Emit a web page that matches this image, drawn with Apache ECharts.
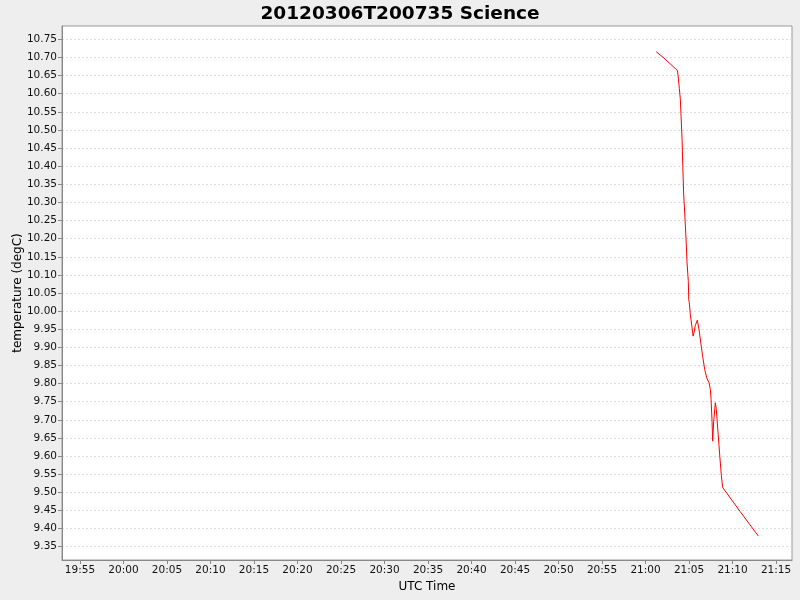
<!DOCTYPE html>
<html>
<head>
<meta charset="utf-8">
<script src="https://cdn.jsdelivr.net/npm/echarts@6/dist/echarts.min.js"></script>
<style>
  html, body { margin: 0; padding: 0; background: #eeeeee; }
  #chart { width: 800px; height: 600px; }
</style>
</head>
<body>
<div id="chart"></div>
<script>
const times = [
    "2012-03-06 21:01:14", "2012-03-06 21:02:14", "2012-03-06 21:03:40", "2012-03-06 21:03:44",
    "2012-03-06 21:03:53", "2012-03-06 21:04:00", "2012-03-06 21:04:05", "2012-03-06 21:04:12",
    "2012-03-06 21:04:17", "2012-03-06 21:04:23", "2012-03-06 21:04:32", "2012-03-06 21:04:40",
    "2012-03-06 21:04:46", "2012-03-06 21:04:55", "2012-03-06 21:04:58", "2012-03-06 21:05:02",
    "2012-03-06 21:05:09", "2012-03-06 21:05:21", "2012-03-06 21:05:28", "2012-03-06 21:05:34",
    "2012-03-06 21:05:43", "2012-03-06 21:05:57", "2012-03-06 21:06:09", "2012-03-06 21:06:21",
    "2012-03-06 21:06:34", "2012-03-06 21:06:48", "2012-03-06 21:07:02", "2012-03-06 21:07:18",
    "2012-03-06 21:07:27", "2012-03-06 21:07:32", "2012-03-06 21:07:39", "2012-03-06 21:07:43",
    "2012-03-06 21:07:50", "2012-03-06 21:08:01", "2012-03-06 21:08:08", "2012-03-06 21:08:20",
    "2012-03-06 21:08:32", "2012-03-06 21:08:43", "2012-03-06 21:08:52", "2012-03-06 21:10:52",
    "2012-03-06 21:12:58"
];

const temperature = [
    10.716, 10.696, 10.664, 10.652,
    10.615, 10.585, 10.537, 10.473,
    10.399, 10.323, 10.257, 10.193,
    10.135, 10.082, 10.031, 10.023,
    9.990, 9.954, 9.931, 9.940,
    9.960, 9.975, 9.949, 9.912,
    9.875, 9.839, 9.816, 9.802,
    9.784, 9.756, 9.692, 9.641,
    9.696, 9.747, 9.729, 9.664,
    9.600, 9.545, 9.513, 9.447,
    9.379
];

const timeTicks = [
    "2012-03-06 19:55:00", "2012-03-06 20:00:00", "2012-03-06 20:05:00", "2012-03-06 20:10:00",
    "2012-03-06 20:15:00", "2012-03-06 20:20:00", "2012-03-06 20:25:00", "2012-03-06 20:30:00",
    "2012-03-06 20:35:00", "2012-03-06 20:40:00", "2012-03-06 20:45:00", "2012-03-06 20:50:00",
    "2012-03-06 20:55:00", "2012-03-06 21:00:00", "2012-03-06 21:05:00", "2012-03-06 21:10:00",
    "2012-03-06 21:15:00"
];

const tempTicks = [
    9.35, 9.40, 9.45, 9.50, 9.55, 9.60, 9.65, 9.70, 9.75, 9.80,
    9.85, 9.90, 9.95, 10.00, 10.05, 10.10, 10.15, 10.20, 10.25, 10.30,
    10.35, 10.40, 10.45, 10.50, 10.55, 10.60, 10.65, 10.70, 10.75
];

const timeRange = ["2012-03-06 19:52:56", "2012-03-06 21:16:50"];
const tempRange = [9.313, 10.787];

const labelFont = { fontFamily: "DejaVu Sans", fontSize: 10.5, color: "#111" };

// "YYYY-MM-DD HH:MM:SS" -> ms, read as UTC
const toMs = (s) => Date.parse(s.replace(" ", "T") + "Z");
const hhmm = (v) => {
    const d = new Date(v);
    return String(d.getUTCHours()).padStart(2, "0") + ":" + String(d.getUTCMinutes()).padStart(2, "0");
};

const getOption = () => {
    const xTickValues = timeTicks.map(toMs);
    return {
        animation: false,
        backgroundColor: "#eeeeee",
        title: {
            text: "20120306T200735 Science",
            left: "center",
            top: 0,
            textStyle: {
                fontFamily: "DejaVu Sans",
                fontWeight: "bold",
                fontSize: 18.5,
                color: "#000"
            }
        },
        grid: {
            left: 62,
            right: 8,
            top: 26,
            bottom: 40,
            outerBoundsMode: "none",
            containLabel: false,
            show: true,
            backgroundColor: "#ffffff",
            borderColor: "#999999",
            borderWidth: 1
        },
        xAxis: {
            type: "value",
            min: toMs(timeRange[0]),
            max: toMs(timeRange[1]),
            name: "UTC Time",
            nameLocation: "middle",
            nameGap: 21,
            nameMoveOverlap: false,
            nameTextStyle: { fontFamily: "DejaVu Sans", fontSize: 12, color: "#000" },
            axisLine: { show: true, onZero: false, lineStyle: { color: "#888888" } },
            axisTick: {
                show: true,
                length: 4,
                customValues: xTickValues,
                lineStyle: { color: "#888888" }
            },
            axisLabel: Object.assign({
                customValues: xTickValues,
                formatter: hhmm,
                margin: 5,
                hideOverlap: false
            }, labelFont),
            splitLine: { show: false }
        },
        yAxis: {
            type: "value",
            min: tempRange[0],
            max: tempRange[1],
            name: "temperature (degC)",
            nameLocation: "middle",
            nameGap: 38,
            nameMoveOverlap: false,
            nameTextStyle: { fontFamily: "DejaVu Sans", fontSize: 12, color: "#000" },
            axisLine: { show: true, onZero: false, lineStyle: { color: "#888888" } },
            axisTick: {
                show: true,
                length: 4,
                customValues: tempTicks,
                lineStyle: { color: "#888888" }
            },
            axisLabel: Object.assign({
                customValues: tempTicks,
                formatter: (v) => v.toFixed(2),
                margin: 5
            }, labelFont),
            splitLine: { show: true, lineStyle: { color: "#dddddd", type: [2, 2] } }
        },
        series: [
            {
                type: "line",
                data: times.map((t, i) => [toMs(t), temperature[i]]),
                showSymbol: false,
                lineStyle: { color: "#ff0000", width: 1 },
                itemStyle: { color: "#ff0000" }
            }
        ]
    };
};

window.addEventListener("load", () => {
    const chart = echarts.init(document.getElementById("chart"));
    chart.setOption(getOption());
});
</script>
</body>
</html>
